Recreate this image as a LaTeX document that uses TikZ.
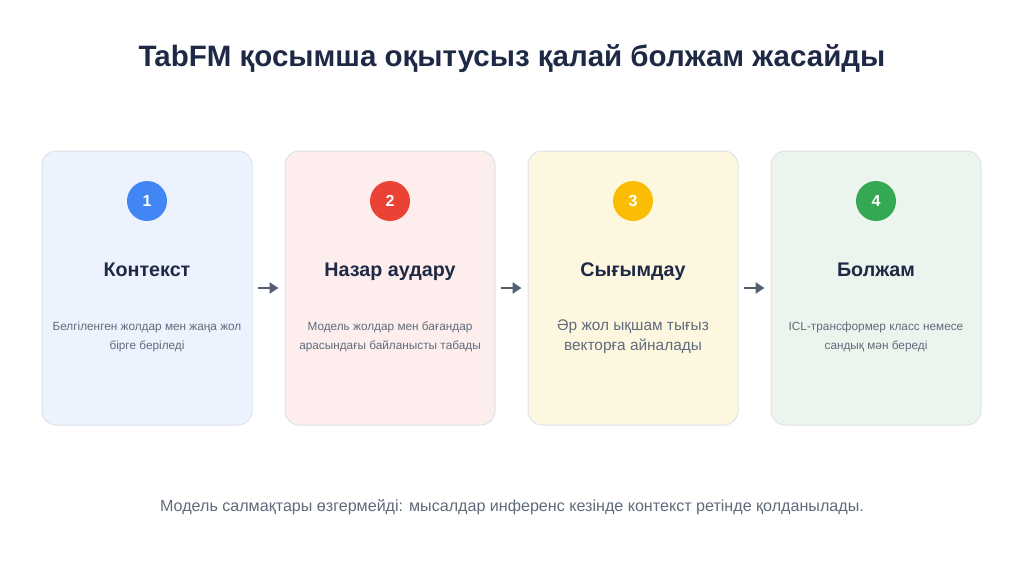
\documentclass[tikz,border=0pt]{standalone}
\usepackage{fontspec}
\setmainfont{Liberation Sans}
\usetikzlibrary{arrows.meta}

\definecolor{inkcol}{HTML}{1E2A45}
\definecolor{textcol}{HTML}{5F6B7A}
\definecolor{edgecol}{HTML}{DDE3EA}
\definecolor{arrowcol}{HTML}{555F70}
\definecolor{fillA}{HTML}{EDF3FE}
\definecolor{fillB}{HTML}{FDEEED}
\definecolor{fillC}{HTML}{FEF7E0}
\definecolor{fillD}{HTML}{EBF5EE}
\definecolor{dotA}{HTML}{4285F4}
\definecolor{dotB}{HTML}{EA4335}
\definecolor{dotC}{HTML}{FBBC04}
\definecolor{dotD}{HTML}{34A853}

\tikzset{
  card/.style={draw=edgecol, line width=1pt, rounded corners=14pt,
    minimum width=210pt, minimum height=274pt, inner sep=0pt},
  badge/.style={circle, minimum size=40pt, inner sep=0pt, text=white,
    font=\fontsize{16}{16}\selectfont\bfseries},
  cardtitle/.style={anchor=base, text=inkcol, font=\fontsize{19.7}{22}\selectfont\bfseries},
  carddesc/.style={text=textcol, align=center, font=\fontsize{11.8}{19}\selectfont},
  flow/.style={draw=arrowcol, line width=2.6pt, shorten <=5pt, shorten >=6pt,
    -{Triangle[length=9pt,width=11pt]}}
}

\begin{document}
\begin{tikzpicture}[x=1pt,y=-1pt]

\useasboundingbox (0,0) rectangle (1024,576);

	\node[text=inkcol, font=\fontsize{29.5}{32}\selectfont\bfseries] (heading) at (512,59) {TabFM қосымша оқытусыз қалай болжам жасайды};

	% cards
	\node[card, fill=fillA] (card1) at (147,288) {};
	\node[card, fill=fillB] (card2) at (390,288) {};
	\node[card, fill=fillC] (card3) at (633,288) {};
	\node[card, fill=fillD] (card4) at (876,288) {};

	\node[badge, fill=dotA] (badge1) at (147,201) {1};
	\node[badge, fill=dotB] (badge2) at (390,201) {2};
	\node[badge, fill=dotC] (badge3) at (633,201) {3};
	\node[badge, fill=dotD] (badge4) at (876,201) {4};

	\node[cardtitle] (title1) at (147,276) {Контекст};
	\node[cardtitle] (title2) at (390,276) {Назар аудару};
	\node[cardtitle] (title3) at (633,276) {Сығымдау};
	\node[cardtitle] (title4) at (876,276) {Болжам};

	\node[carddesc] (desc1) at (147,337) {Белгіленген жолдар мен жаңа жол\\бірге беріледі};
	\node[carddesc] (desc2) at (390,337) {Модель жолдар мен бағандар\\арасындағы байланысты табады};
	\node[carddesc, font=\fontsize{15.4}{20}\selectfont] (desc3) at (633,337) {Әр жол ықшам тығыз\\векторға айналады};
	\node[carddesc] (desc4) at (876,337) {ICL-трансформер класс немесе\\сандық мән береді};

	% arrows
	\draw[flow] (card1.east) -- (card2.west);
	\draw[flow] (card2.east) -- (card3.west);
	\draw[flow] (card3.east) -- (card4.west);

	\node[text=textcol, font=\fontsize{16.1}{18}\selectfont] (footnote) at (512,507) {Модель салмақтары өзгермейді: мысалдар инференс кезінде контекст ретінде қолданылады.};

\end{tikzpicture}
\end{document}
